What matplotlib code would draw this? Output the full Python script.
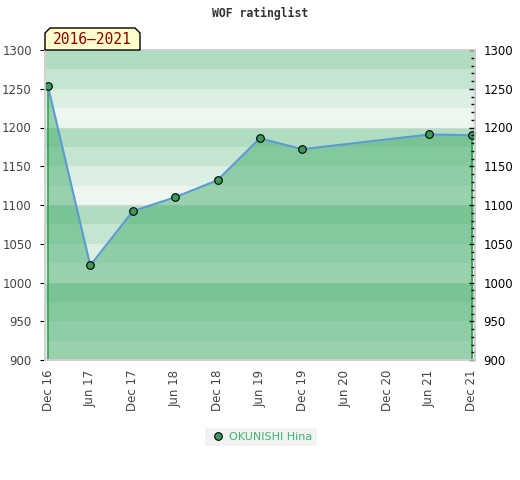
import pandas as pd
import matplotlib.pyplot as plt
from matplotlib.patches import Polygon
from matplotlib.ticker import MultipleLocator

# dados
datas = pd.to_datetime(['2016-12-01', '2017-06-01', '2017-12-01', '2018-06-01',
                        '2018-12-01', '2019-06-01', '2019-12-01', '2021-06-01',
                        '2021-12-01'])
rating = [1253, 1022, 1092, 1110, 1132, 1186, 1172, 1191, 1190]
ticks_x = pd.date_range('2016-12-01', '2021-12-01', freq='6MS')
rotulos_x = [d.strftime('%b %y') for d in ticks_x]
jogador = 'OKUNISHI Hina'
periodo = '2016\u20132021'

verde = '#3ba863'
alphas_faixa = [0.09, 0.18, 0.29, 0.40]

fig = plt.figure(figsize=(5.2, 4.8), dpi=100)
ax = fig.add_axes([45 / 520, 120 / 480, 430 / 520, 310 / 480])

# faixas de fundo
for v in range(900, 1300, 25):
    ax.axhspan(v, v + 25, color=verde, alpha=alphas_faixa[(v % 100) // 25], lw=0, zorder=0)
for v in range(1000, 1300, 100):
    ax.axhline(v, color='#dddddd', lw=1, alpha=0.6, zorder=0.5)

ax.fill_between(datas, rating, 900, color=verde, alpha=0.47, lw=0, zorder=1)
ax.vlines([datas[0], datas[-1]], 900, [rating[0], rating[-1]], color='#2ea050', lw=1.2, zorder=2)
ax.plot(datas, rating, color='#5b9bd5', lw=1.5, zorder=3)
ax.plot(datas, rating, 'o', ms=5.5, mfc='#3a9c5c', mec='black', mew=0.8, zorder=4,
        label=jogador)

ax.set_ylim(900, 1300)
ax.set_xlim(datas[0] - pd.Timedelta(days=13), datas[-1] + pd.Timedelta(days=13))
ax.set_xticks(ticks_x)
ax.set_xticklabels(rotulos_x, rotation=90, fontsize=8.5, color='#444444')
ax.tick_params(axis='x', length=0, pad=7)

ax.yaxis.set_major_locator(MultipleLocator(50))
ax.tick_params(axis='y', which='both', left=False, labelsize=8.5, labelcolor='#444444', pad=6)

ax2 = ax.twinx()
ax2.set_ylim(900, 1300)
ax2.yaxis.set_major_locator(MultipleLocator(50))
ax2.yaxis.set_minor_locator(MultipleLocator(10))
ax2.tick_params(axis='y', which='major', direction='in', length=4, width=1, labelsize=8.5,
                labelcolor='black', pad=6)
ax2.tick_params(axis='y', which='minor', direction='in', length=3, width=1)

for a in (ax, ax2):
    for s in a.spines.values():
        s.set_color('#d0d0d0')
        s.set_linewidth(1.2)

fig.text(0.5, 1 - 13 / 480, 'WOF ratinglist', ha='center', va='center',
         family='DejaVu Sans Mono', fontsize=8.3, fontweight='bold', color='#333333')

# caixa do período
x0, x1, y0, y1 = 45 / 520, 140 / 520, 1 - 50 / 480, 1 - 28 / 480
c = 5 / 520
cy = 5 / 480
fig.patches.append(Polygon([(x0, y0), (x0, y1 - cy), (x0 + c, y1), (x1 - c, y1), (x1, y1 - cy), (x1, y0)],
                           closed=True, facecolor='#ffffcc', edgecolor='black', lw=1,
                           transform=fig.transFigure))
fig.text((x0 + x1) / 2, (y0 + y1) / 2 - 1 / 480, periodo, ha='center', va='center',
         family='DejaVu Sans Mono', fontsize=10.5, color='#8b0000')

leg = fig.legend(loc='center', bbox_to_anchor=(261 / 520, 1 - 437 / 480), frameon=True,
                 facecolor='#f0f0f0', edgecolor='none', fancybox=False, fontsize=8,
                 handletextpad=0.3, borderpad=0.4, handlelength=1.5)
for t in leg.get_texts():
    t.set_color('#3cb371')

fig.savefig('out.png', dpi=100)
